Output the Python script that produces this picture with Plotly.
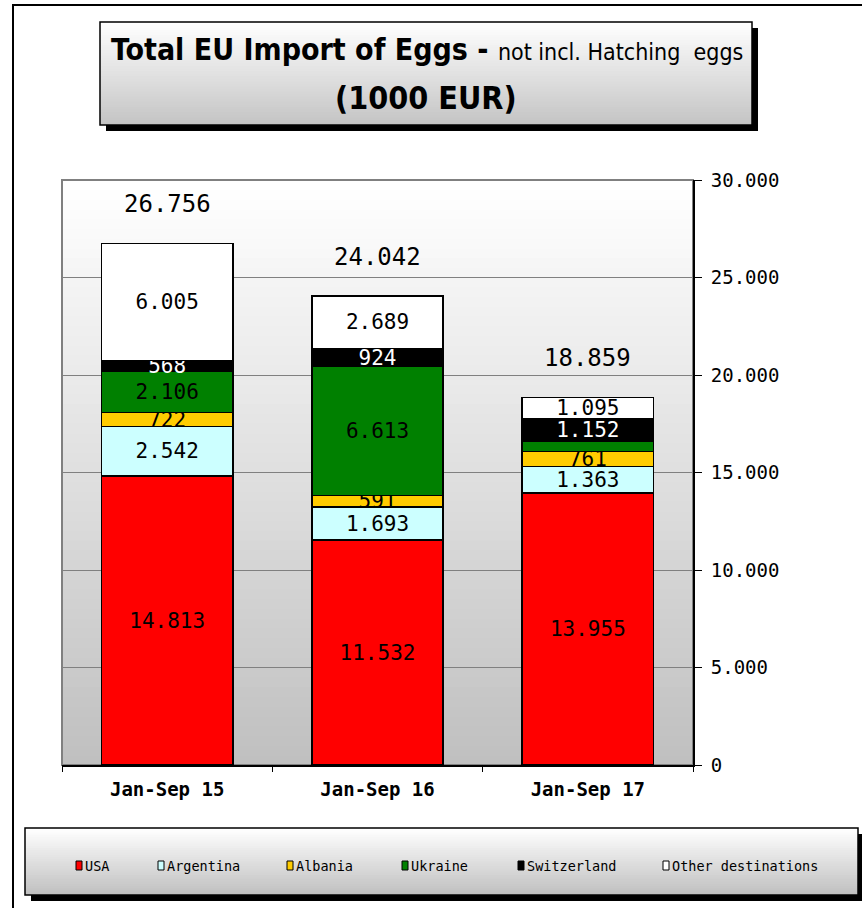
import plotly.graph_objects as go

# ---------------- data ----------------
periods = ["Jan-Sep 15", "Jan-Sep 16", "Jan-Sep 17"]
usa = [14813, 11532, 13955]
argentina = [2542, 1693, 1363]
albania = [722, 591, 761]
ukraine = [2106, 6613, 533]
switzerland = [568, 924, 1152]
other = [6005, 2689, 1095]
totals = [26756, 24042, 18859]

series_names = ["USA", "Argentina", "Albania", "Ukraine", "Switzerland", "Other destinations"]
series_values = [usa, argentina, albania, ukraine, switzerland, other]
series_colors = ["#ff0000", "#ccffff", "#ffcc00", "#008000", "#000000", "#ffffff"]
label_colors = ["#000000", "#000000", "#000000", "#000000", "#ffffff", "#000000"]
hidden_labels = {("Ukraine", 2)}  # label not shown in the original

y_ticks = [0, 5000, 10000, 15000, 20000, 25000, 30000]

# ---------------- layout geometry (pixels) ----------------
W, H = 862, 908
PL, PR, PT, PB = 62, 693, 180, 765
MONO = "DejaVu Sans Mono"
COND = "DejaVu Sans Condensed"


def px(x):
    return (x - PL) / (PR - PL)


def py(y):
    return (PB - y) / (PB - PT)


def fmt(v):
    return f"{v:,}".replace(",", ".")


def rect(x0, y0, x1, y1, fill=None, line=None, lw=0, layer="below"):
    d = dict(type="rect", xref="paper", yref="paper",
             x0=px(x0), x1=px(x1), y0=py(y1), y1=py(y0), layer=layer)
    d["fillcolor"] = fill if fill else "rgba(0,0,0,0)"
    d["line"] = dict(color=line if line else "rgba(0,0,0,0)", width=lw)
    return d


def gradient(x0, y0, x1, y1, top, bot, n=40):
    out = []
    h = (y1 - y0) / n
    for i in range(n):
        t = i / (n - 1)
        c = tuple(round(top[k] + (bot[k] - top[k]) * t) for k in range(3))
        out.append(rect(x0, y0 + i * h, x1, min(y1, y0 + (i + 1) * h + 1.5),
                        fill="rgb(%d,%d,%d)" % c))
    return out


fig = go.Figure()
for name, vals, col, lc in zip(series_names, series_values, series_colors, label_colors):
    texts = ["" if (name, i) in hidden_labels else fmt(v) for i, v in enumerate(vals)]
    fig.add_trace(go.Bar(
        x=periods, y=vals, name=name,
        marker=dict(color=col, line=dict(color="#000000", width=1.5)),
        text=texts, textposition="inside", insidetextanchor="middle",
        constraintext="none",
        textfont=dict(family=MONO, size=21, color=lc),
        showlegend=False,
        hovertemplate="%{x}<br>" + name + ": %{y:,d}<extra></extra>",
    ))

shapes = []
# outer frame
shapes.append(rect(13, 5, 880, 930, line="#000000", lw=2))
# plot area gradient background
shapes += gradient(PL, PT, PR, PB, (255, 255, 255), (192, 192, 192), 60)
shapes.append(rect(PL, PT, PR, PB, line="#808080", lw=2))
# title box
shapes.append(rect(106, 28, 758, 131, fill="#000000"))
shapes += gradient(100, 22, 752, 125, (255, 255, 255), (196, 196, 196), 40)
shapes.append(rect(100, 22, 752, 125, line="#000000", lw=1.5))
# legend box
shapes.append(rect(31, 834, 864, 901, fill="#000000"))
shapes += gradient(25, 828, 858, 895, (255, 255, 255), (192, 192, 192), 30)
shapes.append(rect(25, 828, 858, 895, line="#000000", lw=1.5))

annotations = []
# title
annotations.append(dict(
    xref="paper", yref="paper", x=px(427), y=py(50), xanchor="center", yanchor="middle",
    showarrow=False,
    text="<b>Total EU Import of Eggs - </b><span style='font-size:23px'>not incl. Hatching&nbsp; eggs</span>",
    font=dict(family=COND, size=30, color="#000000")))
annotations.append(dict(
    xref="paper", yref="paper", x=px(426), y=py(98), xanchor="center", yanchor="middle",
    showarrow=False, text="<b>(1000 EUR)</b>",
    font=dict(family=COND, size=32, color="#000000")))
# totals above bars
for p, t in zip(periods, totals):
    annotations.append(dict(
        x=p, y=t, xref="x", yref="y", yshift=39, showarrow=False,
        xanchor="center", yanchor="middle", text=fmt(t),
        font=dict(family=MONO, size=24, color="#000000")))
# custom legend
legend_x = [76, 158, 287, 402, 518, 663]
for name, col, lx in zip(series_names, series_colors, legend_x):
    shapes.append(rect(lx, 861, lx + 6, 870, fill=col, line="#000000", lw=1, layer="above"))
    annotations.append(dict(
        xref="paper", yref="paper", x=px(lx + 7), y=py(866), xanchor="left", yanchor="middle",
        showarrow=False, text=name,
        font=dict(family=MONO, size=13.5, color="#000000")))

fig.update_layout(
    width=W, height=H, autosize=False,
    margin=dict(l=PL, r=W - PR, t=PT, b=H - PB, autoexpand=False),
    paper_bgcolor="#ffffff", plot_bgcolor="rgba(0,0,0,0)",
    barmode="stack", bargap=0.376,
    separators=",.",
    shapes=shapes, annotations=annotations,
    xaxis=dict(
        type="category", showline=True, linecolor="#000000", linewidth=2,
        ticks="outside", tickson="boundaries", ticklen=5, tickcolor="#000000", tickwidth=1,
        showgrid=False, ticklabelstandoff=6,
        tickfont=dict(family=MONO, size=19, color="#000000", weight="bold"),
    ),
    yaxis=dict(
        side="right", range=[0, 30000], tickmode="array", tickvals=y_ticks,
        tickformat=",d", showline=True, linecolor="#000000", linewidth=2,
        ticks="outside", ticklen=7, tickcolor="#000000", tickwidth=1,
        showgrid=True, gridcolor="#808080", gridwidth=1, zeroline=False,
        ticklabelstandoff=5,
        tickfont=dict(family=MONO, size=19, color="#000000"),
    ),
)

fig.write_html("out.html", config={"displayModeBar": False},
               post_script="document.body.style.margin='0';document.body.style.padding='0';")
